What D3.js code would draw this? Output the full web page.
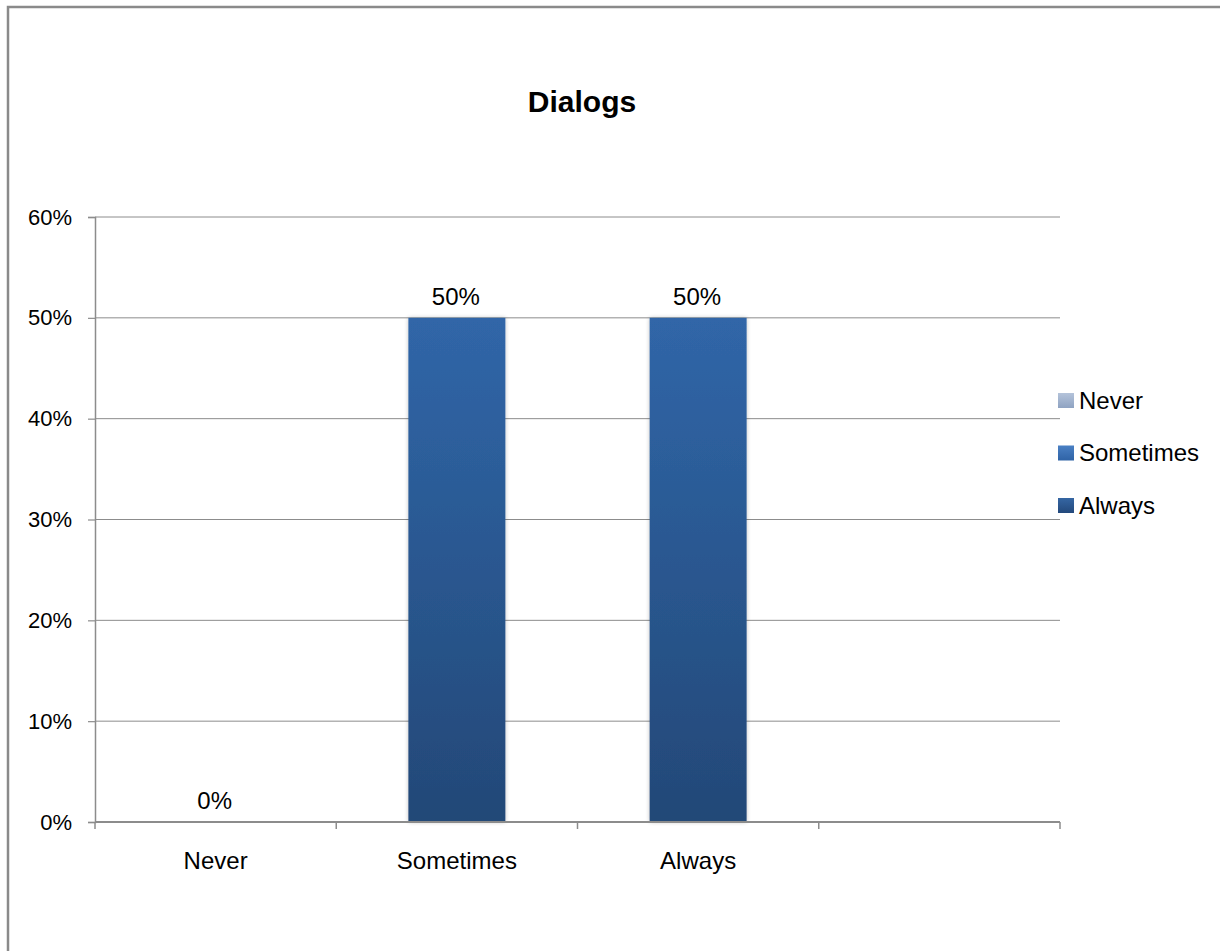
<!DOCTYPE html>
<html>
<head>
<meta charset="utf-8">
<script src="https://cdn.jsdelivr.net/npm/d3@7"></script>
<style>
  html, body { margin: 0; padding: 0; background: #fff; }
  svg { display: block; font-family: Arial, "Liberation Sans", sans-serif; }
</style>
</head>
<body>
<script>
// Survey answers for "Dialogs"
const categories = ["Never", "Sometimes", "Always", ""];
const seriesNames = ["Never", "Sometimes", "Always"];
const values = [0, 0.5, 0.5];
const yTicks = [0, 0.1, 0.2, 0.3, 0.4, 0.5, 0.6];
const chartTitle = "Dialogs";

const W = 1220, H = 951;
const plot = { left: 95, right: 1060, top: 217, bottom: 822 };

const svg = d3.select("body").append("svg").attr("width", W).attr("height", H);
const defs = svg.append("defs");

// Vertical gradients for bars and legend swatches
function grad(id, top, bottom) {
  const g = defs.append("linearGradient").attr("id", id)
    .attr("x1", 0).attr("y1", 0).attr("x2", 0).attr("y2", 1);
  g.append("stop").attr("offset", "0%").attr("stop-color", top);
  g.append("stop").attr("offset", "100%").attr("stop-color", bottom);
}
grad("barFill", "#3066a8", "#234877");
grad("legNever", "#b4c3da", "#8fa3c2");
grad("legSometimes", "#4a80c4", "#2f63a6");
grad("legAlways", "#3566a3", "#23497c");

const shadow = defs.append("filter").attr("id", "barShadow")
  .attr("x", "-10%").attr("y", "-5%").attr("width", "120%").attr("height", "110%");
shadow.append("feGaussianBlur").attr("in", "SourceAlpha").attr("stdDeviation", 2).attr("result", "b");
shadow.append("feComponentTransfer").attr("in", "b").attr("result", "s")
  .append("feFuncA").attr("type", "linear").attr("slope", 0.25);
const merge = shadow.append("feMerge");
merge.append("feMergeNode").attr("in", "s");
merge.append("feMergeNode").attr("in", "SourceGraphic");

// Outer chart frame
svg.append("rect")
  .attr("x", 8).attr("y", 7).attr("width", W + 20).attr("height", H + 20)
  .attr("fill", "#fff").attr("stroke", "#8a8a8a").attr("stroke-width", 2.5);

// Title
svg.append("text")
  .attr("x", 582).attr("y", 112)
  .attr("text-anchor", "middle")
  .attr("font-size", 30).attr("font-weight", "bold").attr("fill", "#000")
  .text(chartTitle);

const x = d3.scaleBand().domain(categories).range([plot.left, plot.right]).padding(0);
const y = d3.scaleLinear().domain([0, 0.6]).range([plot.bottom, plot.top]);

// Horizontal gridlines
svg.append("g").selectAll("line").data(yTicks.filter(t => t > 0)).join("line")
  .attr("x1", plot.left).attr("x2", plot.right)
  .attr("y1", d => y(d)).attr("y2", d => y(d))
  .attr("stroke", "#8c8c8c").attr("stroke-width", 1);

// Y axis
const yAxis = svg.append("g").attr("transform", `translate(${plot.left},0)`)
  .call(d3.axisLeft(y).tickValues(yTicks).tickFormat(d3.format(".0%")).tickSize(7).tickPadding(16));
yAxis.select(".domain").attr("stroke", "#8c8c8c").attr("stroke-width", 1.5);
yAxis.selectAll(".tick line").attr("stroke", "#8c8c8c").attr("stroke-width", 1.2);
yAxis.selectAll(".tick text").attr("font-size", 22).attr("fill", "#000")
  .attr("font-family", "Arial, 'Liberation Sans', sans-serif");

// Bars
const barW = x.bandwidth() * 0.402;
svg.append("g").selectAll("rect").data(seriesNames.map((c, i) => ({ c, v: values[i] })))
  .join("rect")
  .attr("x", d => x(d.c) + (x.bandwidth() - barW) / 2)
  .attr("y", d => y(d.v))
  .attr("width", barW)
  .attr("height", d => y(0) - y(d.v))
  .attr("fill", "url(#barFill)")
  .attr("filter", "url(#barShadow)");

// Data labels
svg.append("g").selectAll("text").data(seriesNames.map((c, i) => ({ c, v: values[i] })))
  .join("text")
  .attr("x", d => x(d.c) + x.bandwidth() / 2 - 1)
  .attr("y", d => y(d.v) - 13)
  .attr("text-anchor", "middle")
  .attr("font-size", 24).attr("fill", "#000")
  .text(d => d3.format(".0%")(d.v));

// X axis with ticks at band boundaries
const xg = svg.append("g");
xg.append("line")
  .attr("x1", plot.left).attr("x2", plot.right)
  .attr("y1", y(0)).attr("y2", y(0))
  .attr("stroke", "#8c8c8c").attr("stroke-width", 2);
const bounds = categories.map(c => x(c)).concat([plot.right]);
xg.selectAll("line.tk").data(bounds).join("line").attr("class", "tk")
  .attr("x1", d => d).attr("x2", d => d)
  .attr("y1", y(0)).attr("y2", y(0) + 7)
  .attr("stroke", "#8c8c8c").attr("stroke-width", 1.5);
xg.selectAll("text").data(categories).join("text")
  .attr("x", d => x(d) + x.bandwidth() / 2)
  .attr("y", 869)
  .attr("text-anchor", "middle")
  .attr("font-size", 24).attr("fill", "#000")
  .text(d => d);

// Legend
const legFills = ["url(#legNever)", "url(#legSometimes)", "url(#legAlways)"];
const leg = svg.append("g").selectAll("g").data(seriesNames).join("g")
  .attr("transform", (d, i) => `translate(1058,${400 + i * 52.5})`);
leg.append("rect").attr("x", 0).attr("y", -7).attr("width", 16).attr("height", 15)
  .attr("fill", (d, i) => legFills[i]);
leg.append("text").attr("x", 21).attr("y", 8.5)
  .attr("font-size", 24).attr("fill", "#000")
  .text(d => d);
</script>
</body>
</html>
